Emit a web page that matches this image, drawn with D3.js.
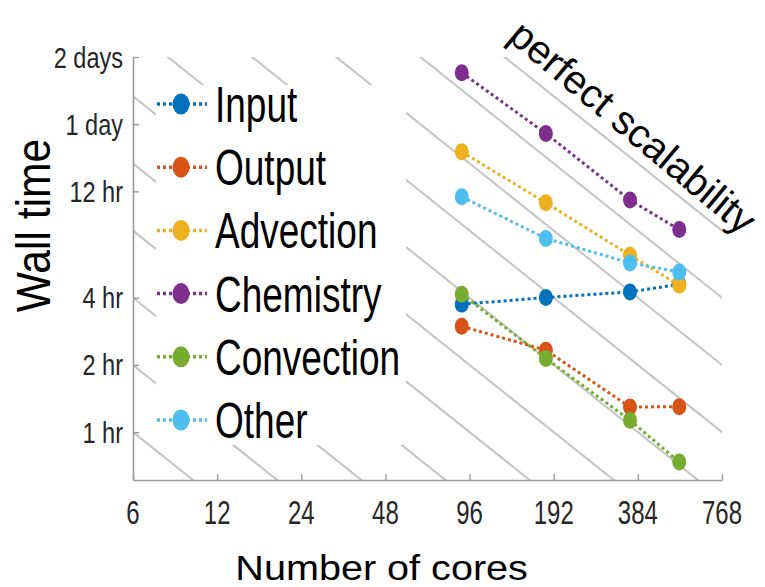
<!DOCTYPE html>
<html>
<head>
<meta charset="utf-8">
<script src="https://cdn.jsdelivr.net/npm/d3@7"></script>
<style>
  body { margin: 0; background: #fff; }
  text { font-family: "Liberation Sans", Arial, Helvetica, sans-serif; }
</style>
</head>
<body>
<script>
// data (wall time in hours)
var cores = [90, 180, 360, 540];
var names = ["Input", "Output", "Advection", "Chemistry", "Convection", "Other"];
var colors = ["#0072BD", "#D95319", "#EDB120", "#7E2F8E", "#77AC30", "#4DBEEE"];
var input = [3.74, 4.01, 4.25, 4.6];
var output = [2.98, 2.33, 1.295, 1.3];
var advection = [18.05, 10.66, 6.21, 4.55];
var chemistry = [40.8, 21.8, 10.96, 8.09];
var convection = [4.15, 2.14, 1.13, 0.734];
var other = [11.34, 7.38, 5.73, 5.22];
var series = [input, output, advection, chemistry, convection, other];

var xTicks = [6, 12, 24, 48, 96, 192, 384, 768];
var yTicks = [1, 2, 4, 12, 24, 48];
var yTickLabels = ["1 hr", "2 hr", "4 hr", "12 hr", "1 day", "2 days"];
// perfect scaling reference lines, in core-hours
var perfectCoreHours = [6, 12, 24, 48, 96, 192, 384, 768, 1536, 3072, 6144];

var w = 765, h = 587;
var plotLeft = 133, plotRight = 722, plotTop = 57, plotBottom = 480;

var svg = d3.select("body").append("svg")
    .attr("width", w)
    .attr("height", h);

var x = d3.scaleLog().base(2).domain([6, 768]).range([plotLeft, plotRight]);
var y = d3.scaleLog().base(2).domain([0.61, 48]).range([plotBottom, plotTop]);

svg.append("clipPath").attr("id", "plot")
  .append("rect")
    .attr("x", plotLeft).attr("y", plotTop)
    .attr("width", plotRight - plotLeft).attr("height", plotBottom - plotTop);

// grey perfect scalability lines
svg.append("g")
    .attr("clip-path", "url(#plot)")
  .selectAll("line")
  .data(perfectCoreHours)
  .enter()
  .append("line")
    .attr("x1", x(1)).attr("y1", d => y(d / 1))
    .attr("x2", x(10000)).attr("y2", d => y(d / 10000))
    .attr("stroke", "#c4c4c4")
    .attr("stroke-width", 2);

// legend background hides the lines
svg.append("rect")
    .attr("x", 156).attr("y", 85)
    .attr("width", 250).attr("height", 360)
    .attr("fill", "#fff");

// axes, MATLAB style with inward ticks
var xAxis = svg.append("g")
    .attr("transform", "translate(0," + plotBottom + ")")
    .call(d3.axisBottom(x).tickValues(xTicks).tickSizeInner(-6).tickSizeOuter(0).tickFormat(""));
var yAxis = svg.append("g")
    .attr("transform", "translate(" + plotLeft + ",0)")
    .call(d3.axisLeft(y).tickValues(yTicks).tickSizeInner(-6).tickSizeOuter(0).tickFormat(""));
[xAxis, yAxis].forEach(function(a) {
  a.select(".domain").attr("stroke", "#9a9a9a").attr("stroke-width", 1.6);
  a.selectAll(".tick line").attr("stroke", "#9a9a9a").attr("stroke-width", 1.4);
});

// tick labels, the picture is stretched vertically
svg.append("g").selectAll("text")
  .data(xTicks)
  .enter()
  .append("text")
    .attr("transform", d => "translate(" + x(d) + ",524) scale(1,1.36)")
    .attr("text-anchor", "middle")
    .attr("font-size", 24)
    .attr("fill", "#262626")
    .text(d => d);

svg.append("g").selectAll("text")
  .data(yTicks)
  .enter()
  .append("text")
    .attr("transform", d => "translate(123," + (y(d) + 10.5) + ") scale(1,1.28)")
    .attr("text-anchor", "end")
    .attr("font-size", 23.5)
    .attr("fill", "#262626")
    .text((d, i) => yTickLabels[i]);

// series
var line = d3.line()
    .x((d, i) => x(cores[i]))
    .y(d => y(d));

series.forEach(function(s, k) {
  var g = svg.append("g").attr("clip-path", "url(#plot)");
  g.append("path")
      .datum(s)
      .attr("d", line)
      .attr("fill", "none")
      .attr("stroke", colors[k])
      .attr("stroke-width", 3)
      .attr("stroke-dasharray", "3,3");
  g.selectAll("ellipse")
    .data(s)
    .enter()
    .append("ellipse")
      .attr("cx", (d, i) => x(cores[i]))
      .attr("cy", d => y(d))
      .attr("rx", 7)
      .attr("ry", 8.5)
      .attr("fill", colors[k]);
});

// legend
var legend = svg.append("g").selectAll("g")
  .data(names)
  .enter()
  .append("g")
    .attr("transform", (d, i) => "translate(0," + (104 + i * 63.2) + ")");
legend.append("line")
    .attr("x1", 157).attr("x2", 207)
    .attr("stroke", (d, i) => colors[i])
    .attr("stroke-width", 3.5)
    .attr("stroke-dasharray", "3,3");
legend.append("ellipse")
    .attr("cx", 181)
    .attr("rx", 8.5).attr("ry", 10.5)
    .attr("fill", (d, i) => colors[i]);
legend.append("text")
    .attr("transform", "translate(215,18) scale(1,1.36)")
    .attr("font-size", 37)
    .attr("fill", "#000")
    .text(d => d);

// axis titles
svg.append("text")
    .attr("transform", "translate(50,225.5) rotate(-90) scale(1,1.15)")
    .attr("text-anchor", "middle")
    .attr("font-size", 42.6)
    .attr("fill", "#000")
    .text("Wall time");

svg.append("text")
    .attr("transform", "translate(381.6,579.5) scale(1,0.88)")
    .attr("text-anchor", "middle")
    .attr("font-size", 39.6)
    .attr("fill", "#000")
    .text("Number of cores");

svg.append("text")
    .attr("transform", "translate(633,127) rotate(40)")
    .attr("text-anchor", "middle")
    .attr("dy", "0.35em")
    .attr("font-size", 40)
    .attr("fill", "#000")
    .text("perfect scalability");
</script>
</body>
</html>
